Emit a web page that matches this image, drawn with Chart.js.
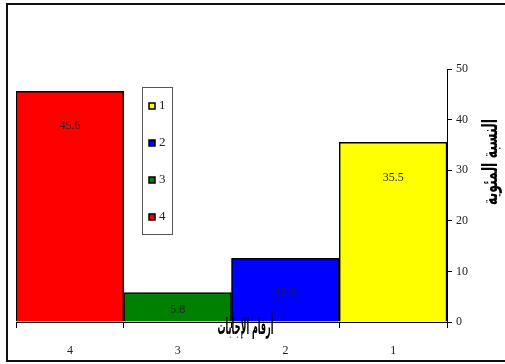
<!DOCTYPE html>
<html>
<head>
<meta charset="utf-8">
<script src="https://cdn.jsdelivr.net/npm/chart.js@4"></script>
<style>
  body { margin: 0; background: #fff; }
  #wrap { width: 505px; height: 364px; position: relative; }
</style>
</head>
<body>
<div id="wrap"><canvas id="myChart" width="505" height="364"></canvas></div>
<script>
// Dados do gráfico
const categorias = ['1', '2', '3', '4'];
const valores = [35.5, 12.6, 5.8, 45.6];
const cores = ['#ffff00', '#0000ff', '#008000', '#ff0000'];
const ticksY = [0, 10, 20, 30, 40, 50];
const tituloY = 'النسبة المئوية';
const tituloX = 'أرقام الإجابات';

// Desenha moldura, rótulos, títulos e legenda
const decoracao = {
    id: 'decoracao',
    beforeDraw(chart) {
        const ctx = chart.ctx;
        ctx.save();
        ctx.fillStyle = '#fff';
        ctx.fillRect(0, 0, chart.width, chart.height);
        ctx.strokeStyle = '#111';
        ctx.lineWidth = 2;
        ctx.strokeRect(7, 4, 520, 357);
        ctx.restore();
    },
    afterDraw(chart) {
        const ctx = chart.ctx;
        const area = chart.chartArea;
        const meta = chart.getDatasetMeta(0);
        ctx.save();

        // rótulos dos valores
        ctx.font = '12px "Liberation Serif"';
        ctx.fillStyle = '#222';
        ctx.textAlign = 'center';
        ctx.textBaseline = 'middle';
        meta.data.forEach((bar, i) => {
            const meio = (bar.y + bar.base) / 2;
            ctx.fillText(valores[i].toFixed(1), bar.x, Math.min(bar.y + 35, meio + 3));
        });

        // título do eixo X
        ctx.fillStyle = '#000';
        ctx.font = 'bold 22px "DejaVu Sans"';
        const cx = (area.left + area.right) / 2 + 14;
        ctx.save();
        ctx.translate(cx, area.bottom + 6);
        const wx = ctx.measureText(tituloX).width;
        ctx.scale(56 / wx, 1);
        ctx.fillText(tituloX, 0, 0);
        ctx.restore();

        // título do eixo Y
        ctx.save();
        ctx.translate(492, 162);
        ctx.rotate(-Math.PI / 2);
        ctx.font = 'bold 21px "DejaVu Sans"';
        const wy = ctx.measureText(tituloY).width;
        ctx.scale(86 / wy, 1);
        ctx.fillText(tituloY, 0, 0);
        ctx.restore();

        // legenda
        ctx.strokeStyle = '#555';
        ctx.lineWidth = 1;
        ctx.strokeRect(142.5, 87.5, 30, 147);
        ctx.font = '13px "Liberation Serif"';
        ctx.textAlign = 'left';
        categorias.forEach((c, i) => {
            const y = 106 + i * 37;
            ctx.fillStyle = cores[i];
            ctx.fillRect(149, y - 3, 6, 6);
            ctx.strokeStyle = '#000';
            ctx.lineWidth = 1.5;
            ctx.strokeRect(149, y - 3, 6, 6);
            ctx.fillStyle = '#222';
            ctx.fillText(c, 159, y);
        });
        ctx.restore();
    }
};

const ctx = document.getElementById('myChart').getContext('2d');
const myChart = new Chart(ctx, {
    type: 'bar',
    data: {
        labels: categorias,
        datasets: [{
            data: valores,
            backgroundColor: cores,
            borderColor: '#000',
            borderWidth: 1.5,
            barPercentage: 1,
            categoryPercentage: 1
        }]
    },
    options: {
        responsive: false,
        animation: false,
        layout: { padding: { left: 16, top: 69, right: 0, bottom: 0 } },
        plugins: {
            legend: { display: false },
            tooltip: { enabled: false }
        },
        scales: {
            x: {
                reverse: true,
                grid: { drawOnChartArea: false, drawTicks: true, tickLength: 6, color: '#000', offset: true },
                border: { color: '#000', width: 1 },
                ticks: { color: '#222', font: { family: 'Liberation Serif', size: 12 }, padding: 16 },
                afterFit(scale) { scale.height = 42; }
            },
            y: {
                position: 'right',
                min: 0,
                max: 50,
                afterBuildTicks(scale) { scale.ticks = ticksY.map(v => ({ value: v })); },
                grid: { drawOnChartArea: false, drawTicks: true, tickLength: 5, color: '#000' },
                border: { color: '#000', width: 1 },
                ticks: { color: '#222', font: { family: 'Liberation Serif', size: 12 }, padding: 4 },
                afterFit(scale) { scale.width = 58; }
            }
        }
    },
    plugins: [decoracao]
});
</script>
</body>
</html>
